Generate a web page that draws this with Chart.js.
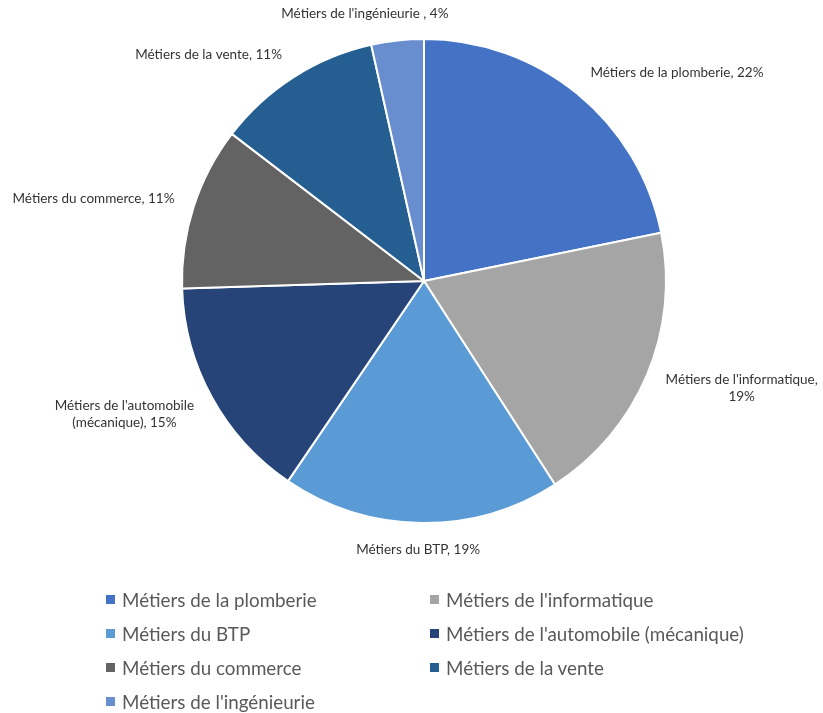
<!DOCTYPE html>
<html>
<head>
<meta charset="utf-8">
<script src="https://cdn.jsdelivr.net/npm/chart.js@4"></script>
<style>
  html, body { margin: 0; padding: 0; background: #fff; }
  #wrap { position: relative; width: 823px; height: 713px; overflow: hidden; }
  #legend {
    position: absolute; left: 106px; top: 582px; width: 717px;
    display: grid; grid-template-columns: 324px 393px; row-gap: 0;
    font-family: Lato, "Open Sans", sans-serif; font-size: 18.8px; color: #595959;
  }
  #legend .item { height: 34px; display: flex; align-items: center; white-space: nowrap; }
  #legend .box { width: 9px; height: 9px; margin-right: 7px; margin-top: 1px; flex: none; }
</style>
</head>
<body>
<div id="wrap">
  <canvas id="pie" width="823" height="713"></canvas>
  <div id="legend"></div>
</div>
<script>
const categories = [
  "Métiers de la plomberie",
  "Métiers de l'informatique",
  "Métiers du BTP",
  "Métiers de l'automobile (mécanique)",
  "Métiers du commerce",
  "Métiers de la vente",
  "Métiers de l'ingénieurie ",
];
const shares = [21.8, 19.1, 18.6, 15.0, 10.9, 11.1, 3.5];
const colors = ["#4472C4", "#A5A5A5", "#5B9BD5", "#264478", "#636363", "#255E91", "#698ED0"];

const total = shares.reduce((a, b) => a + b, 0);
const labelFont = "13.5px Lato, 'Open Sans', sans-serif";

// word wrap helper
function wrap(ctx, text, maxW) {
  const words = text.split(" ");
  const lines = [];
  let cur = "";
  words.forEach((w) => {
    const test = cur ? cur + " " + w : w;
    if (cur && ctx.measureText(test).width > maxW) {
      lines.push(cur);
      cur = w;
    } else cur = test;
  });
  if (cur) lines.push(cur);
  return lines;
}

// Outside data labels, roughly the way Excel places them
const outsideLabels = {
  id: "outsideLabels",
  afterDatasetsDraw(chart) {
    const { ctx } = chart;
    const meta = chart.getDatasetMeta(0);
    ctx.save();
    ctx.font = labelFont;
    ctx.fillStyle = "#333333";
    ctx.textBaseline = "middle";
    ctx.textAlign = "center";
    meta.data.forEach((arc, i) => {
      const p = arc.getProps(["x", "y", "startAngle", "endAngle", "outerRadius"], true);
      const mid = (p.startAngle + p.endAngle) / 2;
      const R = p.outerRadius + 18;
      const ax = p.x + Math.cos(mid) * R;
      const ay = p.y + Math.sin(mid) * R;
      const s = Math.cos(mid); // horizontal direction
      const c = -Math.sin(mid); // vertical direction (up positive)
      const pct = Math.round((shares[i] / total) * 100);
      const text = `${categories[i]}, ${pct}%`;
      const room = s > 0 ? chart.width - ax : ax;
      const lines = wrap(ctx, text, Math.min(190, room));
      const w = Math.max(...lines.map((l) => ctx.measureText(l).width));
      const lh = 17;
      const h = lines.length * lh;
      let cx;
      if (Math.abs(s) >= 0.3) cx = ax + Math.sign(s) * (w / 2 + 2);
      else cx = ax + (s / 0.3) * (w / 2);
      const cy = ay - c * h / 2;
      lines.forEach((l, k) => {
        ctx.fillText(l, cx, cy - h / 2 + lh / 2 + k * lh);
      });
    });
    ctx.restore();
  },
};

new Chart(document.getElementById("pie"), {
  type: "pie",
  data: {
    labels: categories,
    datasets: [{
      data: shares,
      backgroundColor: colors,
      borderColor: "#ffffff",
      borderWidth: 2,
    }],
  },
  options: {
    responsive: false,
    animation: false,
    layout: { padding: { top: 38, bottom: 189, left: 181, right: 156 } },
    plugins: {
      legend: { display: false },
      tooltip: { enabled: false },
    },
  },
  plugins: [outsideLabels],
});

// Legend in two columns
const legend = document.getElementById("legend");
categories.forEach((name, i) => {
  const item = document.createElement("div");
  item.className = "item";
  item.innerHTML = `<span class="box" style="background:${colors[i]}"></span><span>${name.trim()}</span>`;
  legend.appendChild(item);
});
</script>
</body>
</html>
